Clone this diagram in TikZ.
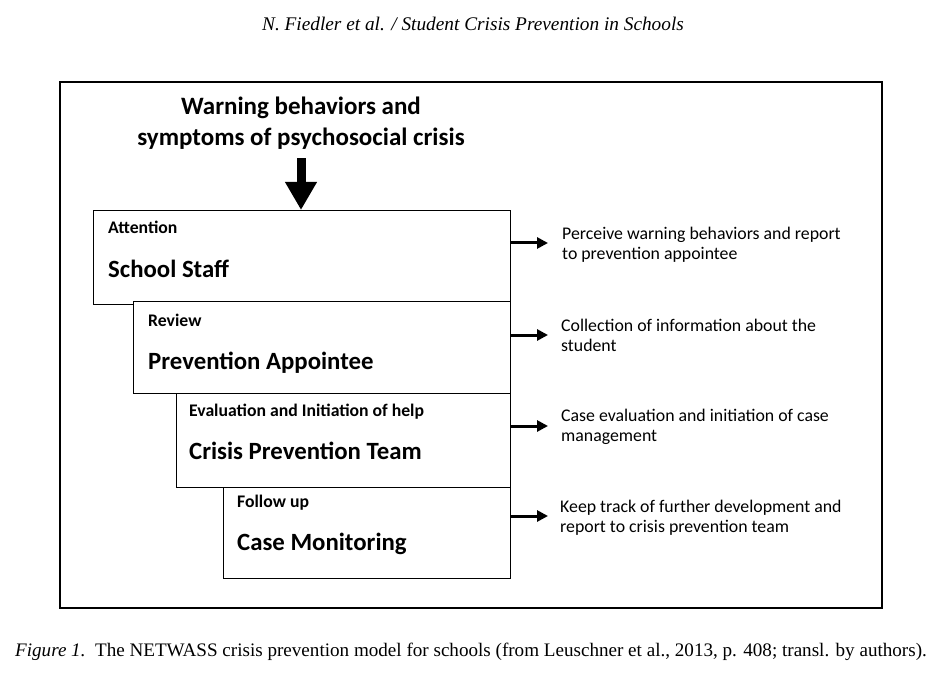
\documentclass[tikz,border=0pt]{standalone}
\usepackage{fontspec}
\setmainfont{Liberation Serif}
\newfontfamily\calibri{Carlito}
\usetikzlibrary{arrows.meta}

\tikzset{
  stage/.style={draw, line width=1.4pt, fill=white, anchor=north west, inner sep=0pt},
  role/.style={anchor=base west, inner sep=0pt, font=\calibri\bfseries\fontsize{17.7}{21}\selectfont},
  actor/.style={anchor=base west, inner sep=0pt, font=\calibri\bfseries\fontsize{24.8}{29}\selectfont},
  task/.style={anchor=base west, inner sep=0pt, align=left, font=\calibri\fontsize{17.8}{20}\selectfont},
  outarrow/.style={line width=3pt, -{Triangle[length=11pt,width=11pt]}},
}

\begin{document}
\begin{tikzpicture}[x=1pt, y=-1pt]
  \useasboundingbox (0,0) rectangle (936,684);

  % Header and frame
  \node[anchor=base, inner sep=0pt, font=\itshape\fontsize{19.3}{23}\selectfont] (header) at (473,31)
    {N. Fiedler et al. / Student Crisis Prevention in Schools};
  \draw[line width=1.8pt] (60,82) rectangle (882,608);

  % Title (base = last line)
  \node[anchor=base, inner sep=0pt, align=center, font=\calibri\bfseries\fontsize{25}{31}\selectfont] (title) at (301,146)
    {Warning behaviors and\\symptoms of psychosocial crisis};

  % Stages
  \node[stage, minimum width=417pt, minimum height=94pt] (staff) at (93,210) {};
  \node[stage, minimum width=377pt, minimum height=92pt] (appointee) at (133,301) {};
  \node[stage, minimum width=334pt, minimum height=94pt] (team) at (176,393) {};
  \node[stage, minimum width=287pt, minimum height=91pt] (monitor) at (223,487) {};

  \node[role] (attention) at (108,234) {Attention};
  \node[actor] (staffname) at (108,278) {School Staff};
  \node[role] (review) at (148,326) {Review};
  \node[actor] (appointeename) at (148,369) {Prevention Appointee};
  \node[role] (evaluation) at (189,416) {Evaluation and Initiation of help};
  \node[actor] (teamname) at (189,459) {Crisis Prevention Team};
  \node[role] (followup) at (237,507) {Follow up};
  \node[actor] (monitorname) at (237,550) {Case Monitoring};

  % Main arrow
  \draw[line width=9pt, -{Triangle[length=28pt,width=30pt]}] (title.south) ++(0,8) coordinate (warn) -- (warn |- staff.north);

  % Tasks (base = last line)
  \node[task] (task1) at (562,260) {Perceive warning behaviors and report\\to prevention appointee};
  \node[task] (task2) at (561,351) {Collection of information about the\\student};
  \node[task] (task3) at (561,441) {Case evaluation and initiation of case\\management};
  \node[task] (task4) at (560,532) {Keep track of further development and\\report to crisis prevention team};

  \coordinate (tip1) at (548,243);
  \coordinate (tip2) at (548,335);
  \coordinate (tip3) at (548,426);
  \coordinate (tip4) at (548,516);
  \draw[outarrow] (staff.east |- tip1) -- (tip1);
  \draw[outarrow] (appointee.east |- tip2) -- (tip2);
  \draw[outarrow] (team.east |- tip3) -- (tip3);
  \draw[outarrow] (monitor.east |- tip4) -- (tip4);

  % Caption
  \node[anchor=base west, inner sep=0pt, font=\fontsize{19.1}{23}\selectfont] (caption) at (15,656)
    {\textit{Figure 1.}\enspace The NETWASS crisis prevention model for schools (from Leuschner et al., 2013, p. 408; transl. by authors).};
\end{tikzpicture}
\end{document}
